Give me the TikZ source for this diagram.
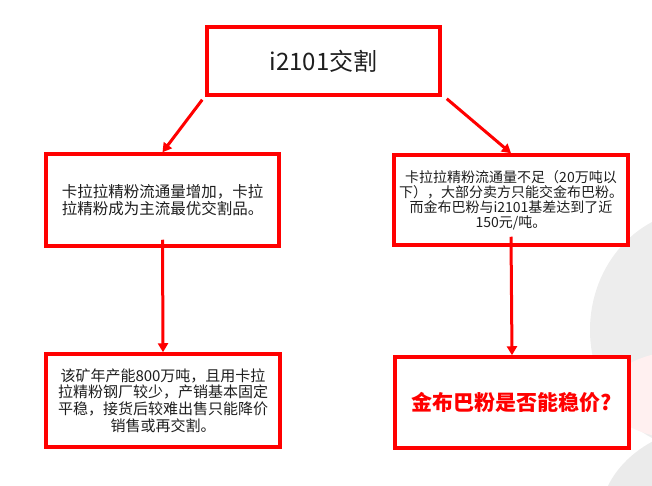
\documentclass[tikz,border=0pt]{standalone}
\usepackage{fontspec}
\setmainfont{Noto Sans CJK SC}
\usetikzlibrary{arrows.meta,positioning}
\definecolor{boxred}{RGB}{255,0,0}
\definecolor{txt}{RGB}{30,30,30}

\begin{document}
\begin{tikzpicture}[x=1pt, y=-1pt,
    block/.style={rectangle, draw=boxred, line width=3.5pt, fill=white, minimum width=233pt, align=center, text=txt, inner sep=0pt},
    arrow/.style={-{Triangle[length=9pt,width=10pt]}, draw=boxred, line width=3pt}
]
\useasboundingbox (0,0) rectangle (652,486);

% faint watermark on the right
\begin{scope}
\clip (0,0) rectangle (652,486);
\fill[black!7] (700,330) ellipse (110pt and 120pt);
\fill[red!6] (690,395) ellipse (85pt and 45pt);
\fill[black!8] (720,520) ellipse (120pt and 95pt);
\end{scope}

% boxes
\node[block, minimum height=68pt, font=\fontsize{24}{28}\selectfont] (jiaoge) at (323.5,61) {i2101交割};
\node[block, minimum height=92pt, font=\fontsize{15.5}{16.5}\selectfont] (kala) at (162.5,200) {卡拉拉精粉流通量增加，卡拉\\拉精粉成为主流最优交割品。};
\node[block, minimum height=90pt, minimum width=234pt, font=\fontsize{14}{15}\selectfont] (jinbu) at (511,200) {卡拉拉精粉流通量不足（20万吨以\\下），大部分卖方只能交金布巴粉。\\而金布巴粉与i2101基差达到了近\\150元/吨。};
\node[block, minimum height=93pt, minimum width=234pt, font=\fontsize{15}{16.7}\selectfont] (kuang) at (163,400.5) {该矿年产能800万吨，且用卡拉\\拉精粉钢厂较少，产销基本固定\\平稳，接货后较难出售只能降价\\销售或再交割。};
\node[block, minimum height=91pt, minimum width=234pt, text=boxred, font=\fontsize{21}{24}\selectfont\bfseries] (wenjia) at (512,402.5) {金布巴粉是否能稳价?};

% arrows
\draw[arrow] ([shift={(-3,3)}]jiaoge.south west) -- (kala.north);
\draw[arrow] ([shift={(5,2)}]jiaoge.south east) -- (jinbu.north);
\draw[arrow] ([yshift=8]kala.south) -- (kuang.north);
\draw[arrow] ([yshift=10]jinbu.south) -- (wenjia.north);

\end{tikzpicture}
\end{document}
